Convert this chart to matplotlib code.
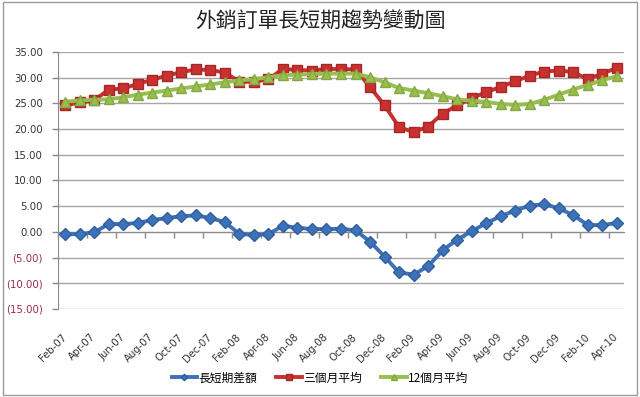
import matplotlib.pyplot as plt
from matplotlib.patches import Rectangle

# 資料 (Feb-07 ~ Apr-10)
months = ["Feb-07", "Mar-07", "Apr-07", "May-07", "Jun-07", "Jul-07", "Aug-07", "Sep-07",
          "Oct-07", "Nov-07", "Dec-07", "Jan-08", "Feb-08", "Mar-08", "Apr-08", "May-08",
          "Jun-08", "Jul-08", "Aug-08", "Sep-08", "Oct-08", "Nov-08", "Dec-08", "Jan-09",
          "Feb-09", "Mar-09", "Apr-09", "May-09", "Jun-09", "Jul-09", "Aug-09", "Sep-09",
          "Oct-09", "Nov-09", "Dec-09", "Jan-10", "Feb-10", "Mar-10", "Apr-10"]

diff = [-0.5, -0.4, -0.1, 1.55, 1.5, 1.75, 2.3, 2.7, 3.05, 3.2, 2.7, 1.9, -0.4, -0.6,
        -0.45, 1.2, 0.8, 0.55, 0.55, 0.6, 0.3, -1.9, -4.8, -7.9, -8.3, -6.7, -3.6, -1.5,
        0.1, 1.7, 3.05, 4.15, 5.1, 5.4, 4.6, 3.25, 1.35, 1.3, 1.75]

avg3 = [24.6, 25.2, 25.6, 27.7, 27.9, 28.8, 29.6, 30.4, 31.1, 31.6, 31.5, 31.0, 29.2,
        29.2, 29.7, 31.7, 31.5, 31.4, 31.7, 31.7, 31.6, 28.2, 24.6, 20.4, 19.4, 20.5,
        23.0, 24.6, 26.0, 27.2, 28.2, 29.3, 30.4, 31.2, 31.4, 31.1, 29.7, 30.8, 31.9]

avg12 = [25.3, 25.6, 25.7, 25.8, 26.2, 26.7, 27.1, 27.5, 27.9, 28.3, 28.7, 29.1, 29.5,
         29.7, 30.1, 30.5, 30.6, 30.7, 30.8, 30.8, 30.8, 30.1, 29.1, 28.0, 27.5, 27.0,
         26.4, 25.8, 25.5, 25.3, 24.9, 24.7, 24.9, 25.7, 26.7, 27.7, 28.6, 29.5, 30.3]

yticks = [35, 30, 25, 20, 15, 10, 5, 0, -5, -10, -15]

plt.rcParams['font.family'] = ['Noto Sans CJK TC', 'DejaVu Sans']

fig = plt.figure(figsize=(6.4, 3.97), dpi=100)
ax = fig.add_axes([0.0906, 0.2217, 0.8844, 0.6473])

x = list(range(len(months)))

# 折線
ax.plot(x, diff, color="#3D72B8", linewidth=2.8, marker="D", markersize=6.5,
        markeredgecolor="#2F5F9E", label="長短期差額", zorder=3)
ax.plot(x, avg3, color="#C8312F", linewidth=2.8, marker="s", markersize=7.5,
        markeredgecolor="#A52826", label="三個月平均", zorder=3)
ax.plot(x, avg12, color="#98BE4E", linewidth=2.8, marker="^", markersize=7.5,
        markeredgecolor="#86A842", label="12個月平均", zorder=4)

# 標題
fig.text(0.5, 0.945, "外銷訂單長短期趨勢變動圖", ha="center", va="center",
         fontsize=15, color="#222222")

# y 軸
ax.set_ylim(-15, 35)
ax.set_yticks(yticks)
ylabels = []
for v in yticks:
    if v < 0:
        ylabels.append(f"({abs(v):.2f})")
    else:
        ylabels.append(f"{v:.2f}")
ax.set_yticklabels(ylabels, family="DejaVu Sans", fontsize=7.3)
for lab, v in zip(ax.get_yticklabels(), yticks):
    lab.set_color("#9B2A4F" if v < 0 else "#333333")
ax.tick_params(axis="y", length=4, width=1, color="#8A8A8A", pad=7)
ax.grid(axis="y", color="#A6A6A6", linewidth=1)
ax.set_axisbelow(True)

# x 軸 (軸線在 0)
ax.set_xlim(-0.5, len(months) - 0.5)
ax.spines["bottom"].set_position(("data", 0))
ax.spines["bottom"].set_color("#8A8A8A")
ax.spines["left"].set_color("#8A8A8A")
ax.spines["top"].set_visible(False)
ax.spines["right"].set_visible(False)
ax.set_xticks([i - 0.5 for i in range(0, len(months) + 1, 2)])
ax.set_xticklabels([])
ax.tick_params(axis="x", length=4, width=1, color="#8A8A8A", direction="out")

sec = ax.secondary_xaxis("bottom")
sec.set_xticks(x[::2])
sec.set_xticklabels(months[::2], family="DejaVu Sans", fontsize=7.3, color="#333333",
                    rotation=45, ha="right", va="center", rotation_mode="anchor")
sec.tick_params(length=0, pad=19)
sec.spines["bottom"].set_visible(False)

# 圖例
fig.legend(loc="center", bbox_to_anchor=(0.5, 0.048), ncol=3, frameon=False,
           fontsize=8.5, handlelength=2.2, handletextpad=0.1, columnspacing=1.6,
           markerscale=0.5)

# 外框
fig.patches.append(Rectangle((0.004, 0.006), 0.991, 0.99, transform=fig.transFigure,
                             fill=False, edgecolor="#9A9A9A", linewidth=1))

fig.savefig("out.png", dpi=100)
